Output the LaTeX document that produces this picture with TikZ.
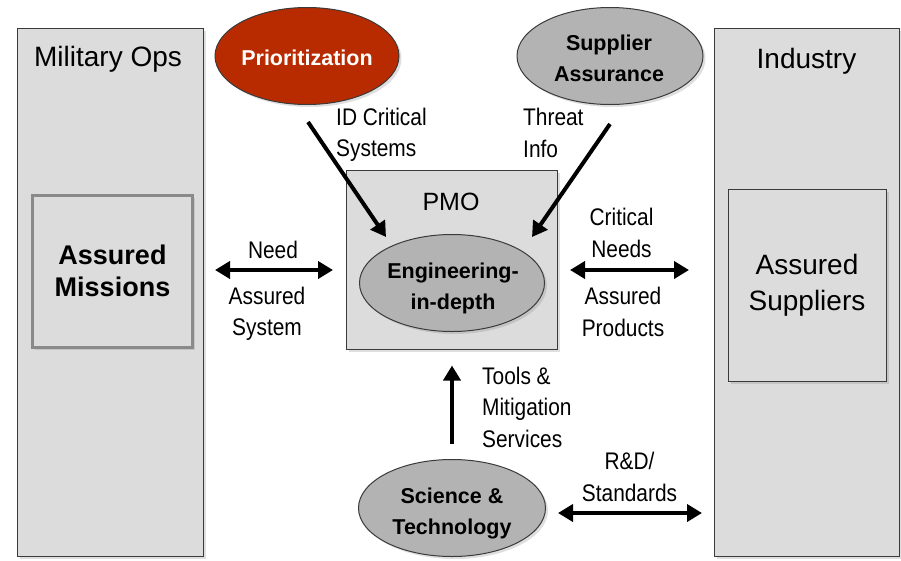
\documentclass[tikz,border=0pt]{standalone}
\usepackage{fontspec}
\setmainfont{Liberation Sans}
\newfontfamily\narrowfont[FakeStretch=0.87]{Liberation Sans}
\usetikzlibrary{arrows.meta,shapes.geometric,shadows,positioning,calc}
\definecolor{panelgray}{HTML}{DCDCDC}
\definecolor{ellgray}{HTML}{B3B3B3}
\definecolor{prioRed}{HTML}{B82B00}
\definecolor{edgegray}{HTML}{3A3A3A}
\definecolor{frameGray}{HTML}{8A8A8A}
\tikzset{ 
    panel/.style={
        rectangle,
        draw=edgegray,
        fill=panelgray,
        line width=1pt,
        inner sep=0pt,
        drop shadow={shadow xshift=2.5pt,shadow yshift=-2.5pt,opacity=0.25},
    },
    oval/.style={
        ellipse,
        draw=edgegray,
        fill=ellgray,
        line width=1pt,
        minimum width=185pt,
        minimum height=97pt,
        inner sep=0pt,
        drop shadow={shadow xshift=2.5pt,shadow yshift=-2.5pt,opacity=0.25},
    },
    ovaltext/.style={
        align=center,
        inner sep=0pt,
        font=\fontsize{21.5}{31}\selectfont\bfseries,
    },
    title/.style={
        inner sep=0pt,
        font=\fontsize{28}{33}\selectfont,
    },
    lbl/.style={
        inner sep=0pt,
        font=\fontsize{24}{31.5}\selectfont\narrowfont,
    },
    flow/.style={
        line width=4pt,
        -{Triangle[length=15pt,width=17pt]},
    },
    bothflow/.style={
        line width=4pt,
        {Triangle[length=15pt,width=17pt]}-{Triangle[length=15pt,width=17pt]},
    },
}

\begin{document}
\begin{tikzpicture}[x=1pt,y=-1pt]
    \useasboundingbox (0,0) rectangle (901,560);
    % side panels
    \node [panel, minimum width=186pt, minimum height=528pt] (milops) at (110,292) {};
    \node [title] (milops-title) at (108,59) {Military Ops};
    \node [panel, draw=frameGray, line width=3pt, minimum width=160pt, minimum height=152pt,
           align=center, font=\fontsize{27}{32}\selectfont\bfseries] (missions) at (112.5,271) {Assured\\Missions};
    \node [panel, minimum width=185pt, minimum height=528pt] (industry) at (806.5,292) {};
    \node [title] (industry-title) at (806.5,61) {Industry};
    \node [panel, minimum width=158pt, minimum height=192pt,
           align=center, font=\fontsize{28}{36}\selectfont] (suppliers) at (807,285) {Assured\\Suppliers};
    % PMO in the middle
    \node [panel, minimum width=211pt, minimum height=179pt] (pmo) at (451.5,259.5) {};
    \node [title, font=\fontsize{25}{30}\selectfont] (pmo-title) at (451,202) {PMO};
    \node [oval] (eng) at (452,283) {};
    \node [ovaltext] (eng-text) at (453,288) {Engineering-\\in-depth};
    % ovals
    \node [oval, fill=prioRed, minimum width=184pt] (prio) at (307,56) {};
    \node [ovaltext, text=white] (prio-text) at (307,58) {Prioritization};
    \node [oval, minimum width=186pt] (supply) at (610,56) {};
    \node [ovaltext] (supply-text) at (609,58) {Supplier\\Assurance};
    \node [oval, minimum width=187pt] (scitech) at (452,508) {};
    \node [ovaltext] (scitech-text) at (452,513) {Science \&\\Technology};
    % arrow ends
    \coordinate (prio-from) at (308,122);
    \coordinate (prio-to) at (386,237);
    \coordinate (threat-from) at (610,124);
    \coordinate (threat-to) at (532,237);
    \coordinate (need-l) at (215,270);
    \coordinate (need-r) at (333,270);
    \coordinate (crit-l) at (570,270);
    \coordinate (crit-r) at (689,270);
    \coordinate (rd-l) at (558,513);
    \coordinate (rd-r) at (702,513);
    % connectors
    \draw [flow] (prio-from) -- (prio-to);
    \draw [flow] (threat-from) -- (threat-to);
    \draw [bothflow] (need-l) -- (need-r);
    \draw [bothflow] (crit-l) -- (crit-r);
    \draw [flow, shorten <=15pt, shorten >=16pt] (scitech.north) -- (scitech.north |- pmo.south);
    \draw [bothflow] (rd-l) -- (rd-r);
    % labels
    \node [lbl, align=left, anchor=west] (idcrit) at (336,135) {ID Critical\\Systems};
    \node [lbl, align=left, anchor=west] (threat) at (523,133) {Threat\\Info};
    \node [lbl] (need) at (273,250) {Need};
    \node [lbl, align=center] (asys) at (267,314) {Assured\\System};
    \node [lbl, align=center] (critneeds) at (621.5,233) {Critical\\Needs};
    \node [lbl, align=center] (aprod) at (623,312) {Assured\\Products};
    \node [lbl, align=left, anchor=west] (tools) at (482,407) {Tools \&\\Mitigation\\Services};
    \node [lbl, align=center] (rd) at (629.5,477) {R\&D/\\Standards};
\end{tikzpicture}
\end{document}
